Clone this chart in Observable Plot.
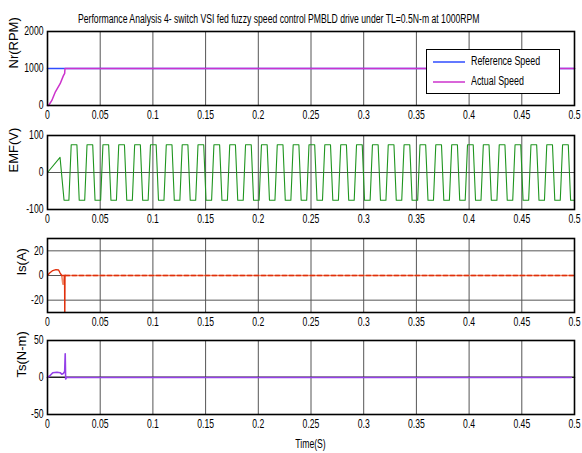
<!DOCTYPE html>
<html>
<head>
<meta charset="utf-8">
<script src="https://cdn.jsdelivr.net/npm/d3@7"></script>
<script src="https://cdn.jsdelivr.net/npm/@observablehq/plot@0.6"></script>
<style>
  body { margin: 0; background: #fff; }
  #fig { position: relative; width: 582px; height: 453px; background: #fff; overflow: hidden;
         font-family: 'Liberation Sans', Arial, sans-serif; }
  .panel { position: absolute; left: 0; }
  #title { position: absolute; left: 0; width: 557px; top: 12px; text-align: center; font-size: 12px; color: #000;
           white-space: nowrap; transform: scaleX(0.72); transform-origin: 278.5px 0; }
  #xlabel { position: absolute; left: 47px; width: 527px; top: 437px; text-align: center; font-size: 12px;
            transform: scaleX(0.72); transform-origin: 263.5px 0; }
  #legend { position: absolute; left: 426px; top: 49px; width: 132px; height: 43px; border: 1px solid #000; background: #fff; }
  #legend svg { position: absolute; left: 0; top: 0; }
  .legtext { position: absolute; left: 44px; font-size: 12px; white-space: nowrap; transform: scaleX(0.74); transform-origin: 0 0; }
</style>
</head>
<body>
<div id="fig">
  <div id="title">Performance Analysis 4- switch VSI fed fuzzy speed control PMBLD drive under TL=0.5N-m at 1000RPM</div>
  <div id="xlabel">Time(S)</div>
</div>
<script>
// ---------- data ----------
const xTicks = [0, 0.05, 0.1, 0.15, 0.2, 0.25, 0.3, 0.35, 0.4, 0.45, 0.5];

// Speed (RPM)
const speedRefT = [0, 0.5];
const speedRefV = [1000, 1000];
const speedActT = [0, 0.001, 0.004, 0.0075, 0.012, 0.015, 0.0163, 0.0166, 0.5];
const speedActV = [0, 0, 130, 370, 590, 800, 870, 1000, 1000];

// Back EMF (V): corner points of the trapezoidal wave
const emfT = [0, 0.0119, 0.0157,
  0.0203, 0.0225, 0.0279, 0.0301,
  0.0353, 0.0375, 0.0429, 0.0451,
  0.0504, 0.0526, 0.0580, 0.0602,
  0.0654, 0.0676, 0.0730, 0.0752,
  0.0805, 0.0827, 0.0881, 0.0903,
  0.0955, 0.0977, 0.1031, 0.1053,
  0.1105, 0.1127, 0.1181, 0.1203,
  0.1256, 0.1278, 0.1332, 0.1354,
  0.1406, 0.1428, 0.1482, 0.1504,
  0.1557, 0.1579, 0.1633, 0.1655,
  0.1707, 0.1729, 0.1783, 0.1805,
  0.1857, 0.1879, 0.1933, 0.1955,
  0.2008, 0.2030, 0.2084, 0.2106,
  0.2158, 0.2180, 0.2234, 0.2256,
  0.2309, 0.2331, 0.2385, 0.2407,
  0.2459, 0.2481, 0.2535, 0.2557,
  0.2609, 0.2631, 0.2685, 0.2707,
  0.2760, 0.2782, 0.2836, 0.2858,
  0.2910, 0.2932, 0.2986, 0.3008,
  0.3061, 0.3083, 0.3137, 0.3159,
  0.3211, 0.3233, 0.3287, 0.3309,
  0.3361, 0.3383, 0.3437, 0.3459,
  0.3512, 0.3534, 0.3588, 0.3610,
  0.3662, 0.3684, 0.3738, 0.3760,
  0.3813, 0.3835, 0.3889, 0.3911,
  0.3963, 0.3985, 0.4039, 0.4061,
  0.4113, 0.4135, 0.4189, 0.4211,
  0.4264, 0.4286, 0.4340, 0.4362,
  0.4414, 0.4436, 0.4490, 0.4512,
  0.4565, 0.4587, 0.4641, 0.4663,
  0.4715, 0.4737, 0.4791, 0.4813,
  0.4865, 0.4887, 0.4941, 0.4963,
  0.5];
const emfV = [0, 41, -75,
  -75, 75, 75, -75,  -75, 75, 75, -75,  -75, 75, 75, -75,  -75, 75, 75, -75,
  -75, 75, 75, -75,  -75, 75, 75, -75,  -75, 75, 75, -75,  -75, 75, 75, -75,
  -75, 75, 75, -75,  -75, 75, 75, -75,  -75, 75, 75, -75,  -75, 75, 75, -75,
  -75, 75, 75, -75,  -75, 75, 75, -75,  -75, 75, 75, -75,  -75, 75, 75, -75,
  -75, 75, 75, -75,  -75, 75, 75, -75,  -75, 75, 75, -75,  -75, 75, 75, -75,
  -75, 75, 75, -75,  -75, 75, 75, -75,  -75, 75, 75, -75,  -75, 75, 75, -75,
  -75, 75, 75, -75,  -75, 75, 75, -75,  -75, 75, 75, -75,  -75, 75, 75, -75,
  -75, 75, 75, -75,  -75, 75, 75, -75,  -75, 75, 75, -75,  -75, 75, 75, -75,
  -75];

// Stator current (A)
const isT = [0, 0.002, 0.005, 0.008, 0.0105, 0.012, 0.0135, 0.0162, 0.0164, 0.0166, 0.0172];
const isV = [0, 2, 4, 4.8, 4.5, 2, 0, 0, -34, 0, 0];
const isRippleT = [0.0135, 0.0146, 0.0152, 0.0160, 0.5];
const isRippleV = [0, -7, -7, 0, 0];
const isRefT = [0.017, 0.5];
const isRefV = [0, 0];

// Torque (N-m)
const teT = [0, 0.002, 0.005, 0.009, 0.012, 0.0135, 0.015, 0.0163, 0.0168, 0.0172, 0.018, 0.497];
const teV = [0, 2, 6.5, 7, 6.5, 4.5, 5.5, 8, 32, -2, 0, 0];
const tlT = [0, 0.5];
const tlV = [0.5, 0.5];

// legend entries
const legendNames = ["Reference Speed", "Actual Speed"];
const legendColors = ["#2f4dff", "#cc33cc"];

// ---------- helpers ----------
const pts = (T, V) => T.map((t, i) => ({t, v: V[i]}));
const FONT = "'Liberation Sans', Arial, sans-serif";
const GRID = "#555";
const SQUEEZE = 0.72;

function condense(svg, skip) {
  svg.querySelectorAll("text").forEach(t => {
    if (t.textContent === skip) return;
    const tr = t.getAttribute("transform");
    if (tr) {
      t.setAttribute("transform", tr + ` scale(${SQUEEZE},1)`);
    } else {
      const x = +(t.getAttribute("x") || 0), y = +(t.getAttribute("y") || 0);
      t.setAttribute("transform", `translate(${x},${y}) scale(${SQUEEZE},1) translate(${-x},${-y})`);
    }
  });
}

function panel({top, yDomain, yTicks, ylabel, labelDx, marks}) {
  const mt = 6, mb = 22;
  const chart = Plot.plot({
    width: 582, height: 74 + mt + mb,
    marginLeft: 47, marginRight: 8, marginTop: mt, marginBottom: mb,
    style: {fontFamily: FONT, fontSize: "12px", color: "#000", background: "transparent", overflow: "visible"},
    x: {domain: [0, 0.5], ticks: xTicks, tickFormat: d => String(d), tickSize: 0, tickPadding: 5, label: null},
    y: {domain: yDomain, ticks: yTicks, tickFormat: d => String(d), tickSize: 0, tickPadding: 4, label: null},
    marks: [
      Plot.ruleX(xTicks, {stroke: GRID, strokeWidth: 1}),
      Plot.ruleY(yTicks, {stroke: GRID, strokeWidth: 1}),
      ...marks,
      Plot.frame({stroke: "#000", strokeWidth: 1.6}),
      Plot.text([ylabel], {frameAnchor: "left", rotate: -90, dx: -labelDx, fontSize: 13, text: d => d})
    ]
  });
  condense(chart, ylabel);
  chart.classList.add("panel");
  chart.style.top = (top - mt) + "px";
  document.getElementById("fig").appendChild(chart);
}

panel({
  top: 31, yDomain: [0, 2000], yTicks: [0, 1000, 2000], ylabel: "Nr(RPM)", labelDx: 34,
  marks: [
    Plot.line(pts(speedRefT, speedRefV), {x: "t", y: "v", stroke: legendColors[0], strokeWidth: 1.5}),
    Plot.line(pts(speedActT, speedActV), {x: "t", y: "v", stroke: legendColors[1], strokeWidth: 1.5})
  ]
});
panel({
  top: 135, yDomain: [-100, 100], yTicks: [-100, 0, 100], ylabel: "EMF(V)", labelDx: 34,
  marks: [
    Plot.line(pts(emfT, emfV), {x: "t", y: "v", stroke: "#1f951f", strokeWidth: 1.1})
  ]
});
panel({
  top: 238, yDomain: [-30, 30], yTicks: [-20, 0, 20], ylabel: "Is(A)", labelDx: 26,
  marks: [
    Plot.line(pts(isRippleT, isRippleV), {x: "t", y: "v", stroke: "#f08a6a", strokeWidth: 1.6, clip: true}),
    Plot.line(pts(isRefT, isRefV), {x: "t", y: "v", stroke: "#e0300c", strokeWidth: 1.6, strokeDasharray: "4,3"}),
    Plot.line(pts(isT, isV), {x: "t", y: "v", stroke: "#e0300c", strokeWidth: 1.4, clip: true})
  ]
});
panel({
  top: 340, yDomain: [-50, 50], yTicks: [-50, 0, 50], ylabel: "Ts(N-m)", labelDx: 26,
  marks: [
    Plot.line(pts(tlT, tlV), {x: "t", y: "v", stroke: "#222", strokeWidth: 1.5}),
    Plot.line(pts(teT, teV), {x: "t", y: "v", stroke: "#9440e8", strokeWidth: 1.6})
  ]
});

// legend
const leg = document.createElement("div");
leg.id = "legend";
let html = `<svg width="132" height="43">`;
legendNames.forEach((n, i) => {
  html += `<line x1="6" x2="38" y1="${12 + i * 20}" y2="${12 + i * 20}" stroke="${legendColors[i]}" stroke-width="1.5"/>`;
});
html += `</svg>`;
legendNames.forEach((n, i) => {
  html += `<div class="legtext" style="top:${i * 20 + 4}px">${n}</div>`;
});
leg.innerHTML = html;
document.getElementById("fig").appendChild(leg);
</script>
</body>
</html>
